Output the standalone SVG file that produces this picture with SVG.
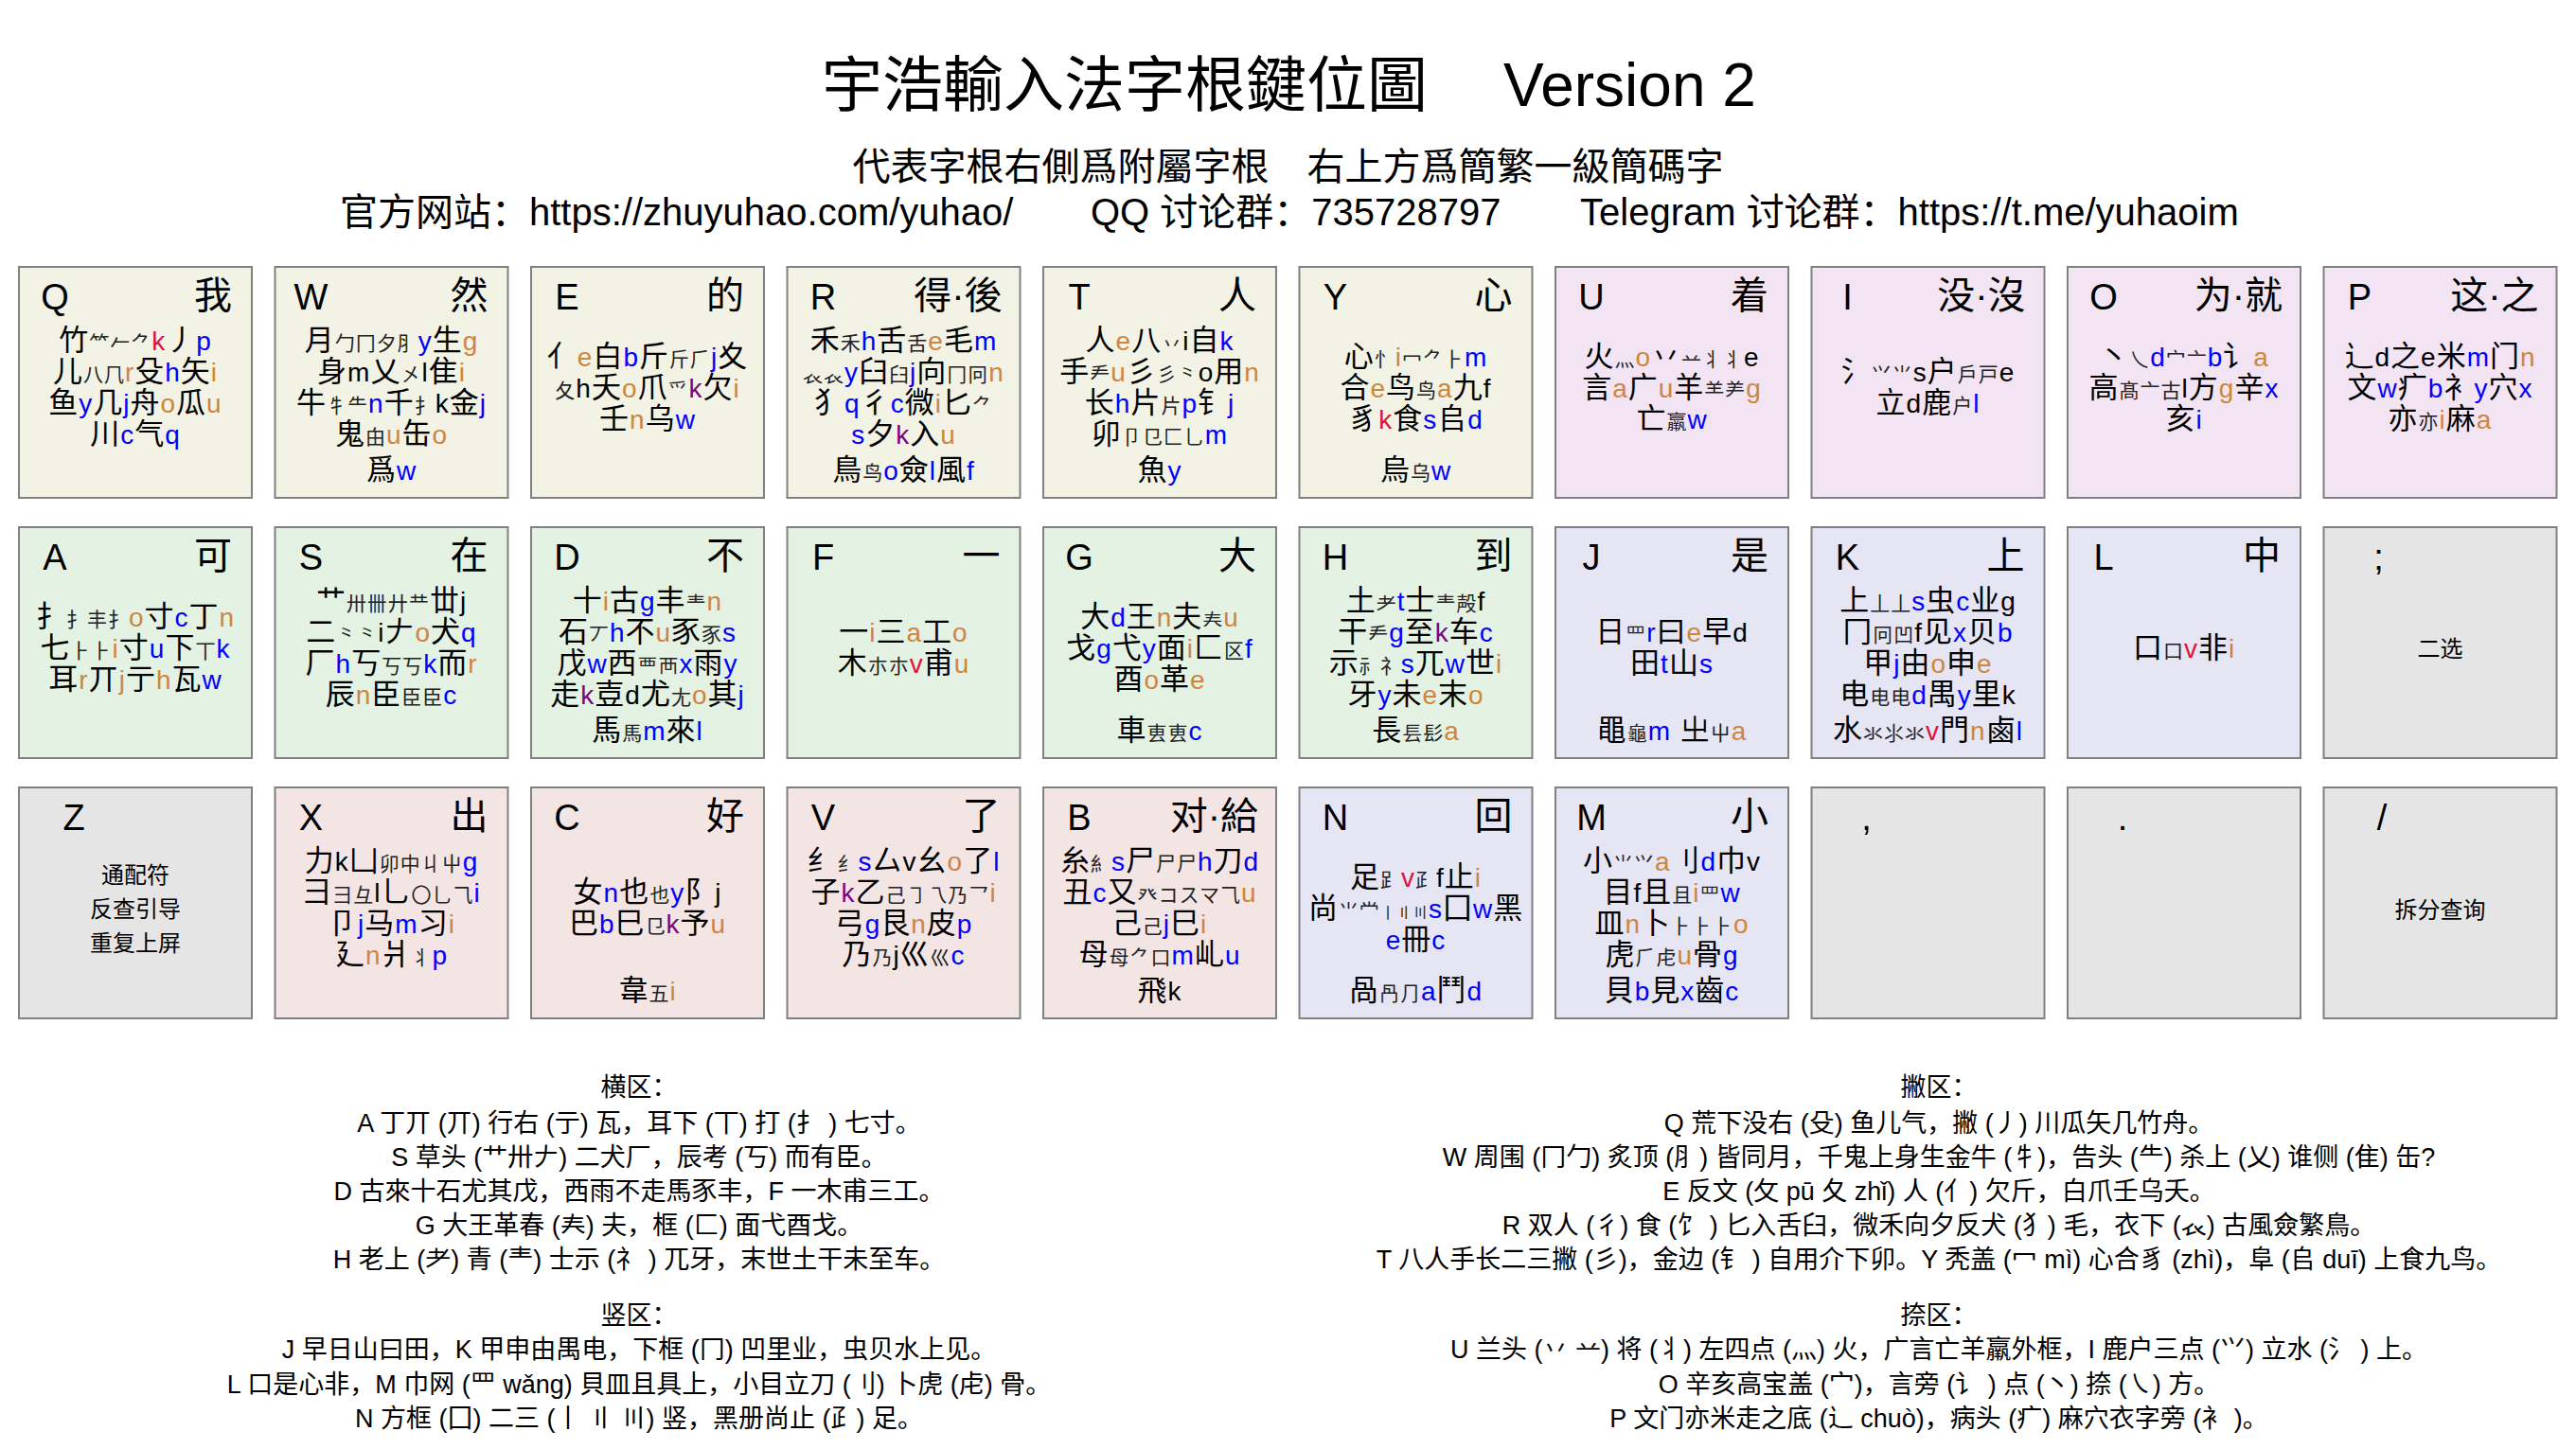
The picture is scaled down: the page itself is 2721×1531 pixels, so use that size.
<svg xmlns="http://www.w3.org/2000/svg" width="2721" height="1531" viewBox="0 0 2721 1531">
<style>
text{font-family:"Liberation Sans","Noto Sans CJK SC",sans-serif;fill:#000}
.key rect{stroke:#808080;stroke-width:2}
.c1{fill:#F2F2E5}.c2{fill:#F3E4F3}.c3{fill:#E4F2E4}.c4{fill:#E5E5F4}.c5{fill:#E5E5E5}.c6{fill:#F4E5E5}
.kl{font-size:38px;text-anchor:middle}
.kc{font-size:40px;text-anchor:end}
.ln{font-size:31px;text-anchor:middle;letter-spacing:1px}
.S{font-size:21px;fill:#222}
.T{font-size:16px;fill:#222}
.B{font-size:28px;fill:#0000FF}
.N{font-size:28px;fill:#CD853F}
.R{font-size:28px;fill:#DC143C}
.P{font-size:28px;fill:#800080}
.K{font-size:28px;fill:#000}
.sm{font-size:24px;text-anchor:middle}
.bt{font-size:27px;text-anchor:middle}
.h1{font-size:64px}
.h2{font-size:40px}
</style>
<rect width="2721" height="1531" fill="#FFFFFF"/>
<g id="header">
<text class="h1" x="868" y="112">宇浩輸入法字根鍵位圖</text>
<text class="h1" x="1588" y="112">Version 2</text>
<text class="h2" x="1360.5" y="190" text-anchor="middle">代表字根右側爲附屬字根　右上方爲簡繁一級簡碼字</text>
<text class="h2" x="359" y="238">官方网站：https://zhuyuhao.com/yuhao/</text>
<text class="h2" x="1152" y="238">QQ 讨论群：735728797</text>
<text class="h2" x="1669" y="238">Telegram 讨论群：https://t.me/yuhaoim</text>
</g>

<!-- Row 1 -->
<g id="key-Q" class="key"><rect class="c1" x="20" y="282" width="246" height="244"/>
<text class="kl" x="58" y="327">Q</text><text class="kc" x="245" y="326">我</text>
<text class="ln" x="143" y="370">竹<tspan class="S">⺮𠂉⺈</tspan><tspan class="R">k</tspan>丿<tspan class="B">p</tspan></text>
<text class="ln" x="143" y="403">儿<tspan class="S">八⺇</tspan><tspan class="N">r</tspan>殳<tspan class="B">h</tspan>矢<tspan class="N">i</tspan></text>
<text class="ln" x="143" y="436">鱼<tspan class="B">y</tspan>几<tspan class="B">j</tspan>舟<tspan class="N">o</tspan>瓜<tspan class="N">u</tspan></text>
<text class="ln" x="143" y="469">川<tspan class="B">c</tspan>气<tspan class="B">q</tspan></text>
</g>
<g id="key-W" class="key"><rect class="c1" x="290.5" y="282" width="246" height="244"/>
<text class="kl" x="328.5" y="327">W</text><text class="kc" x="515.5" y="326">然</text>
<text class="ln" x="413.5" y="370">月<tspan class="S">勹冂夕⺼</tspan><tspan class="B">y</tspan>生<tspan class="N">g</tspan></text>
<text class="ln" x="413.5" y="403">身<tspan class="K">m</tspan>乂<tspan class="S">㐅</tspan><tspan class="K">l</tspan>隹<tspan class="N">i</tspan></text>
<text class="ln" x="413.5" y="436">牛<tspan class="S">牜⺧</tspan><tspan class="B">n</tspan>千<tspan class="S">扌</tspan><tspan class="K">k</tspan>金<tspan class="B">j</tspan></text>
<text class="ln" x="413.5" y="469">鬼<tspan class="S">甶</tspan><tspan class="N">u</tspan>缶<tspan class="N">o</tspan></text>
<text class="ln" x="413.5" y="507">爲<tspan class="B">w</tspan></text>
</g>
<g id="key-E" class="key"><rect class="c1" x="561" y="282" width="246" height="244"/>
<text class="kl" x="599" y="327">E</text><text class="kc" x="786" y="326">的</text>
<text class="ln" x="684" y="387">亻<tspan class="N">e</tspan>白<tspan class="B">b</tspan>斤<tspan class="S">斤⺁</tspan><tspan class="B">j</tspan>夊</text>
<text class="ln" x="684" y="420"><tspan class="S">夂</tspan><tspan class="K">h</tspan>夭<tspan class="N">o</tspan>爪<tspan class="S">⺤</tspan><tspan class="P">k</tspan>欠<tspan class="N">i</tspan></text>
<text class="ln" x="684" y="453">壬<tspan class="N">n</tspan>乌<tspan class="B">w</tspan></text>
</g>
<g id="key-R" class="key"><rect class="c1" x="831.5" y="282" width="246" height="244"/>
<text class="kl" x="869.5" y="327">R</text><text class="kc" x="1058.5" y="326">得·後</text>
<text class="ln" x="954.5" y="370">禾<tspan class="S">禾</tspan><tspan class="B">h</tspan>舌<tspan class="S">舌</tspan><tspan class="N">e</tspan>毛<tspan class="B">m</tspan></text>
<text class="ln" x="954.5" y="403"><tspan class="S">𧘇𧘇</tspan><tspan class="B">y</tspan>臼<tspan class="S">臼</tspan><tspan class="B">j</tspan>向<tspan class="S">冂冋</tspan><tspan class="N">n</tspan></text>
<text class="ln" x="954.5" y="436">犭<tspan class="B">q</tspan>彳<tspan class="B">c</tspan>微<tspan class="N">i</tspan>匕<tspan class="S">⺈</tspan></text>
<text class="ln" x="954.5" y="469"><tspan class="B">s</tspan>夕<tspan class="P">k</tspan>入<tspan class="N">u</tspan></text>
<text class="ln" x="954.5" y="507">鳥<tspan class="S">鸟</tspan><tspan class="B">o</tspan>僉<tspan class="B">l</tspan>風<tspan class="B">f</tspan></text>
</g>
<g id="key-T" class="key"><rect class="c1" x="1102" y="282" width="246" height="244"/>
<text class="kl" x="1140" y="327">T</text><text class="kc" x="1327" y="326">人</text>
<text class="ln" x="1225" y="370">人<tspan class="N">e</tspan>八<tspan class="S">丷</tspan><tspan class="K">i</tspan>自<tspan class="B">k</tspan></text>
<text class="ln" x="1225" y="403">手<tspan class="S">龵</tspan><tspan class="N">u</tspan>彡<tspan class="S">彡⺀</tspan><tspan class="K">o</tspan>用<tspan class="N">n</tspan></text>
<text class="ln" x="1225" y="436">长<tspan class="B">h</tspan>片<tspan class="S">片</tspan><tspan class="B">p</tspan>钅<tspan class="B">j</tspan></text>
<text class="ln" x="1225" y="469">卯<tspan class="S">卩⺋匚⺃</tspan><tspan class="B">m</tspan></text>
<text class="ln" x="1225" y="507">魚<tspan class="B">y</tspan></text>
</g>
<g id="key-Y" class="key"><rect class="c1" x="1372.5" y="282" width="246" height="244"/>
<text class="kl" x="1410.5" y="327">Y</text><text class="kc" x="1597.5" y="326">心</text>
<text class="ln" x="1495.5" y="387">心<tspan class="S">忄</tspan><tspan class="N">i</tspan><tspan class="S">冖⺈⺊</tspan><tspan class="B">m</tspan></text>
<text class="ln" x="1495.5" y="420">合<tspan class="N">e</tspan>鸟<tspan class="S">鸟</tspan><tspan class="N">a</tspan>九<tspan class="K">f</tspan></text>
<text class="ln" x="1495.5" y="453">豸<tspan class="R">k</tspan>食<tspan class="B">s</tspan>𠂤<tspan class="B">d</tspan></text>
<text class="ln" x="1495.5" y="507">烏<tspan class="S">乌</tspan><tspan class="B">w</tspan></text>
</g>
<g id="key-U" class="key"><rect class="c2" x="1643" y="282" width="246" height="244"/>
<text class="kl" x="1681" y="327">U</text><text class="kc" x="1868" y="326">着</text>
<text class="ln" x="1766" y="387">火<tspan class="S">灬</tspan><tspan class="N">o</tspan>丷<tspan class="S">䒑丬⺦</tspan><tspan class="K">e</tspan></text>
<text class="ln" x="1766" y="420">言<tspan class="N">a</tspan>广<tspan class="N">u</tspan>羊<tspan class="S">⺷⺶</tspan><tspan class="N">g</tspan></text>
<text class="ln" x="1766" y="453">亡<tspan class="S">羸</tspan><tspan class="B">w</tspan></text>
</g>
<g id="key-I" class="key"><rect class="c2" x="1913.5" y="282" width="246" height="244"/>
<text class="kl" x="1951.5" y="327">I</text><text class="kc" x="2139.5" y="326">没·沒</text>
<text class="ln" x="2036.5" y="403">氵<tspan class="S">⺍⺌</tspan><tspan class="K">s</tspan>户<tspan class="S">戶戸</tspan><tspan class="K">e</tspan></text>
<text class="ln" x="2036.5" y="436">立<tspan class="K">d</tspan>鹿<tspan class="S">户</tspan><tspan class="B">l</tspan></text>
</g>
<g id="key-O" class="key"><rect class="c2" x="2184" y="282" width="246" height="244"/>
<text class="kl" x="2222" y="327">O</text><text class="kc" x="2411" y="326">为·就</text>
<text class="ln" x="2307" y="387">丶<tspan class="S">乀</tspan><tspan class="B">d</tspan><tspan class="S">宀亠</tspan><tspan class="B">b</tspan>讠<tspan class="N">a</tspan></text>
<text class="ln" x="2307" y="420">高<tspan class="S">髙亠古</tspan><tspan class="K">l</tspan>方<tspan class="N">g</tspan>辛<tspan class="B">x</tspan></text>
<text class="ln" x="2307" y="453">亥<tspan class="B">i</tspan></text>
</g>
<g id="key-P" class="key"><rect class="c2" x="2454.5" y="282" width="246" height="244"/>
<text class="kl" x="2492.5" y="327">P</text><text class="kc" x="2681.5" y="326">这·之</text>
<text class="ln" x="2577.5" y="387">辶<tspan class="K">d</tspan>之<tspan class="K">e</tspan>米<tspan class="B">m</tspan>门<tspan class="N">n</tspan></text>
<text class="ln" x="2577.5" y="420">文<tspan class="B">w</tspan>疒<tspan class="B">b</tspan>衤<tspan class="B">y</tspan>穴<tspan class="B">x</tspan></text>
<text class="ln" x="2577.5" y="453">亦<tspan class="S">亦</tspan><tspan class="N">i</tspan>麻<tspan class="N">a</tspan></text>
</g>

<!-- Row 2 -->
<g id="key-A" class="key"><rect class="c3" x="20" y="557" width="246" height="244"/>
<text class="kl" x="58" y="602">A</text><text class="kc" x="245" y="601">可</text>
<text class="ln" x="143" y="662">扌<tspan class="S">扌丰扌</tspan><tspan class="N">o</tspan>寸<tspan class="B">c</tspan>丁<tspan class="N">n</tspan></text>
<text class="ln" x="143" y="695">七<tspan class="S">⺊⺊</tspan><tspan class="N">i</tspan>寸<tspan class="B">u</tspan>下<tspan class="S">丅</tspan><tspan class="B">k</tspan></text>
<text class="ln" x="143" y="728">耳<tspan class="N">r</tspan>丌<tspan class="N">j</tspan>亍<tspan class="N">h</tspan>瓦<tspan class="B">w</tspan></text>
</g>
<g id="key-S" class="key"><rect class="c3" x="290.5" y="557" width="246" height="244"/>
<text class="kl" x="328.5" y="602">S</text><text class="kc" x="515.5" y="601">在</text>
<text class="ln" x="413.5" y="645">艹<tspan class="S">卅卌廾龷</tspan>丗<tspan class="K">j</tspan></text>
<text class="ln" x="413.5" y="678">二<tspan class="S">⺀⺀</tspan><tspan class="K">i</tspan>𠂇<tspan class="N">o</tspan>犬<tspan class="B">q</tspan></text>
<text class="ln" x="413.5" y="711">厂<tspan class="B">h</tspan>丂<tspan class="S">丂丂</tspan><tspan class="B">k</tspan>而<tspan class="N">r</tspan></text>
<text class="ln" x="413.5" y="744">辰<tspan class="N">n</tspan>臣<tspan class="S">臣臣</tspan><tspan class="B">c</tspan></text>
</g>
<g id="key-D" class="key"><rect class="c3" x="561" y="557" width="246" height="244"/>
<text class="kl" x="599" y="602">D</text><text class="kc" x="786" y="601">不</text>
<text class="ln" x="684" y="645">十<tspan class="N">i</tspan>古<tspan class="B">g</tspan>丰<tspan class="S">龶</tspan><tspan class="N">n</tspan></text>
<text class="ln" x="684" y="678">石<tspan class="S">丆</tspan><tspan class="B">h</tspan>不<tspan class="N">u</tspan>豕<tspan class="S">豕</tspan><tspan class="B">s</tspan></text>
<text class="ln" x="684" y="711">戊<tspan class="B">w</tspan>西<tspan class="S">覀襾</tspan><tspan class="B">x</tspan>雨<tspan class="B">y</tspan></text>
<text class="ln" x="684" y="744">走<tspan class="P">k</tspan>壴<tspan class="K">d</tspan>尤<tspan class="S">尢</tspan><tspan class="N">o</tspan>其<tspan class="B">j</tspan></text>
<text class="ln" x="684" y="782">馬<tspan class="S">馬</tspan><tspan class="B">m</tspan>來<tspan class="B">l</tspan></text>
</g>
<g id="key-F" class="key"><rect class="c3" x="831.5" y="557" width="246" height="244"/>
<text class="kl" x="869.5" y="602">F</text><text class="kc" x="1056.5" y="601">一</text>
<text class="ln" x="954.5" y="678">一<tspan class="N">i</tspan>三<tspan class="N">a</tspan>工<tspan class="N">o</tspan></text>
<text class="ln" x="954.5" y="711">木<tspan class="S">朩朩</tspan><tspan class="R">v</tspan>甫<tspan class="N">u</tspan></text>
</g>
<g id="key-G" class="key"><rect class="c3" x="1102" y="557" width="246" height="244"/>
<text class="kl" x="1140" y="602">G</text><text class="kc" x="1327" y="601">大</text>
<text class="ln" x="1225" y="662">大<tspan class="B">d</tspan>王<tspan class="N">n</tspan>夫<tspan class="S">𡗗</tspan><tspan class="N">u</tspan></text>
<text class="ln" x="1225" y="695">戈<tspan class="B">g</tspan>弋<tspan class="B">y</tspan>面<tspan class="N">i</tspan>匚<tspan class="S">区</tspan><tspan class="B">f</tspan></text>
<text class="ln" x="1225" y="728">酉<tspan class="N">o</tspan>革<tspan class="N">e</tspan></text>
<text class="ln" x="1225" y="782">車<tspan class="S">叀叀</tspan><tspan class="B">c</tspan></text>
</g>
<g id="key-H" class="key"><rect class="c3" x="1372.5" y="557" width="246" height="244"/>
<text class="kl" x="1410.5" y="602">H</text><text class="kc" x="1597.5" y="601">到</text>
<text class="ln" x="1495.5" y="645">土<tspan class="S">耂</tspan><tspan class="B">t</tspan>士<tspan class="S">龶殸</tspan><tspan class="K">f</tspan></text>
<text class="ln" x="1495.5" y="678">干<tspan class="S">龵</tspan><tspan class="B">g</tspan>至<tspan class="P">k</tspan>车<tspan class="B">c</tspan></text>
<text class="ln" x="1495.5" y="711">示<tspan class="S">⺬礻</tspan><tspan class="B">s</tspan>兀<tspan class="B">w</tspan>世<tspan class="N">i</tspan></text>
<text class="ln" x="1495.5" y="744">牙<tspan class="B">y</tspan>未<tspan class="N">e</tspan>末<tspan class="N">o</tspan></text>
<text class="ln" x="1495.5" y="782">長<tspan class="S">镸髟</tspan><tspan class="N">a</tspan></text>
</g>
<g id="key-J" class="key"><rect class="c4" x="1643" y="557" width="246" height="244"/>
<text class="kl" x="1681" y="602">J</text><text class="kc" x="1868" y="601">是</text>
<text class="ln" x="1766" y="678">日<tspan class="S">罒</tspan><tspan class="B">r</tspan>曰<tspan class="N">e</tspan>早<tspan class="K">d</tspan></text>
<text class="ln" x="1766" y="711">田<tspan class="B">t</tspan>山<tspan class="B">s</tspan></text>
<text class="ln" x="1766" y="782">黽<tspan class="S">龜</tspan><tspan class="B">m</tspan> 㞢<tspan class="S">屮</tspan><tspan class="N">a</tspan></text>
</g>
<g id="key-K" class="key"><rect class="c4" x="1913.5" y="557" width="246" height="244"/>
<text class="kl" x="1951.5" y="602">K</text><text class="kc" x="2138.5" y="601">上</text>
<text class="ln" x="2036.5" y="645">上<tspan class="S">丄丄</tspan><tspan class="B">s</tspan>虫<tspan class="B">c</tspan>业<tspan class="K">g</tspan></text>
<text class="ln" x="2036.5" y="678">冂<tspan class="S">冋凹</tspan><tspan class="K">f</tspan>见<tspan class="B">x</tspan>贝<tspan class="B">b</tspan></text>
<text class="ln" x="2036.5" y="711">甲<tspan class="B">j</tspan>由<tspan class="N">o</tspan>申<tspan class="N">e</tspan></text>
<text class="ln" x="2036.5" y="744">电<tspan class="S">电电</tspan><tspan class="B">d</tspan>禺<tspan class="B">y</tspan>里<tspan class="K">k</tspan></text>
<text class="ln" x="2036.5" y="782">水<tspan class="S">氺⺢氺</tspan><tspan class="R">v</tspan>門<tspan class="N">n</tspan>鹵<tspan class="B">l</tspan></text>
</g>
<g id="key-L" class="key"><rect class="c4" x="2184" y="557" width="246" height="244"/>
<text class="kl" x="2222" y="602">L</text><text class="kc" x="2409" y="601">中</text>
<text class="ln" x="2307" y="695">口<tspan class="S">口</tspan><tspan class="R">v</tspan>非<tspan class="N">i</tspan></text>
</g>
<g id="key-semicolon" class="key"><rect class="c5" x="2454.5" y="557" width="246" height="244"/>
<text class="kl" x="2512.5" y="602">;</text>
<text class="sm" x="2577.5" y="694">二选</text>
</g>

<!-- Row 3 -->
<g id="key-Z" class="key"><rect class="c5" x="20" y="832" width="246" height="244"/>
<text class="kl" x="78" y="877">Z</text>
<text class="sm" x="143" y="933">通配符</text>
<text class="sm" x="143" y="969">反查引导</text>
<text class="sm" x="143" y="1005">重复上屏</text>
</g>
<g id="key-X" class="key"><rect class="c6" x="290.5" y="832" width="246" height="244"/>
<text class="kl" x="328.5" y="877">X</text><text class="kc" x="515.5" y="876">出</text>
<text class="ln" x="413.5" y="920">力<tspan class="K">k</tspan>凵<tspan class="S">卯中丩屮</tspan><tspan class="B">g</tspan></text>
<text class="ln" x="413.5" y="953">彐<tspan class="S">⺕彑</tspan><tspan class="K">l</tspan>乚<tspan class="S">〇乚⺄</tspan><tspan class="B">i</tspan></text>
<text class="ln" x="413.5" y="986">卩<tspan class="B">j</tspan>马<tspan class="B">m</tspan>习<tspan class="N">i</tspan></text>
<text class="ln" x="413.5" y="1019">廴<tspan class="N">n</tspan>爿<tspan class="S">丬</tspan><tspan class="B">p</tspan></text>
</g>
<g id="key-C" class="key"><rect class="c6" x="561" y="832" width="246" height="244"/>
<text class="kl" x="599" y="877">C</text><text class="kc" x="786" y="876">好</text>
<text class="ln" x="684" y="953">女<tspan class="B">n</tspan>也<tspan class="S">也</tspan><tspan class="B">y</tspan>阝<tspan class="K">j</tspan></text>
<text class="ln" x="684" y="986">巴<tspan class="B">b</tspan>巳<tspan class="S">㔾</tspan><tspan class="P">k</tspan>予<tspan class="N">u</tspan></text>
<text class="ln" x="684" y="1057">韋<tspan class="S">五</tspan><tspan class="N">i</tspan></text>
</g>
<g id="key-V" class="key"><rect class="c6" x="831.5" y="832" width="246" height="244"/>
<text class="kl" x="869.5" y="877">V</text><text class="kc" x="1056.5" y="876">了</text>
<text class="ln" x="954.5" y="920">纟<tspan class="S">纟</tspan><tspan class="B">s</tspan>厶<tspan class="K">v</tspan>幺<tspan class="N">o</tspan>了<tspan class="B">l</tspan></text>
<text class="ln" x="954.5" y="953">子<tspan class="P">k</tspan>乙<tspan class="S">己㇆乁乃乛</tspan><tspan class="N">i</tspan></text>
<text class="ln" x="954.5" y="986">弓<tspan class="B">g</tspan>艮<tspan class="N">n</tspan>皮<tspan class="B">p</tspan></text>
<text class="ln" x="954.5" y="1019">乃<tspan class="S">乃</tspan><tspan class="K">j</tspan>巛<tspan class="S">巛</tspan><tspan class="B">c</tspan></text>
</g>
<g id="key-B" class="key"><rect class="c6" x="1102" y="832" width="246" height="244"/>
<text class="kl" x="1140" y="877">B</text><text class="kc" x="1329" y="876">对·給</text>
<text class="ln" x="1225" y="920">糸<tspan class="S">糹</tspan><tspan class="B">s</tspan>尸<tspan class="S">尸尸</tspan><tspan class="B">h</tspan>刀<tspan class="B">d</tspan></text>
<text class="ln" x="1225" y="953">丑<tspan class="B">c</tspan>又<tspan class="S">癶コスマ⺄</tspan><tspan class="N">u</tspan></text>
<text class="ln" x="1225" y="986">己<tspan class="S">己</tspan><tspan class="B">j</tspan>巳<tspan class="N">i</tspan></text>
<text class="ln" x="1225" y="1019">母<tspan class="S">⺟⺈口</tspan><tspan class="B">m</tspan>乢<tspan class="B">u</tspan></text>
<text class="ln" x="1225" y="1057">飛<tspan class="K">k</tspan></text>
</g>
<g id="key-N" class="key"><rect class="c4" x="1372.5" y="832" width="246" height="244"/>
<text class="kl" x="1410.5" y="877">N</text><text class="kc" x="1597.5" y="876">回</text>
<text class="ln" x="1495.5" y="937">足<tspan class="S">⻊</tspan><tspan class="R">v</tspan><tspan class="S">⺪</tspan><tspan class="K">f</tspan>止<tspan class="N">i</tspan></text>
<text class="ln" x="1495.5" y="970">尚<tspan class="S">⺌龸</tspan><tspan class="T">丨〢〣</tspan><tspan class="B">s</tspan>囗<tspan class="B">w</tspan>黑</text>
<text class="ln" x="1495.5" y="1003"><tspan class="B">e</tspan>冊<tspan class="B">c</tspan></text>
<text class="ln" x="1495.5" y="1057">咼<tspan class="S">冎⺆</tspan><tspan class="B">a</tspan>鬥<tspan class="B">d</tspan></text>
</g>
<g id="key-M" class="key"><rect class="c4" x="1643" y="832" width="246" height="244"/>
<text class="kl" x="1681" y="877">M</text><text class="kc" x="1868" y="876">小</text>
<text class="ln" x="1766" y="920">小<tspan class="S">⺌⺍</tspan><tspan class="N">a</tspan>刂<tspan class="B">d</tspan>巾<tspan class="K">v</tspan></text>
<text class="ln" x="1766" y="953">目<tspan class="K">f</tspan>且<tspan class="S">且</tspan><tspan class="N">i</tspan><tspan class="S">罒</tspan><tspan class="B">w</tspan></text>
<text class="ln" x="1766" y="986">皿<tspan class="N">n</tspan>卜<tspan class="S">⺊⺊⺊</tspan><tspan class="N">o</tspan></text>
<text class="ln" x="1766" y="1019">虎<tspan class="S">⺁虍</tspan><tspan class="N">u</tspan>骨<tspan class="B">g</tspan></text>
<text class="ln" x="1766" y="1057">貝<tspan class="B">b</tspan>見<tspan class="B">x</tspan>齒<tspan class="B">c</tspan></text>
</g>
<g id="key-comma" class="key"><rect class="c5" x="1913.5" y="832" width="246" height="244"/>
<text class="kl" x="1971.5" y="877">,</text>
</g>
<g id="key-period" class="key"><rect class="c5" x="2184" y="832" width="246" height="244"/>
<text class="kl" x="2242" y="877">.</text>
</g>
<g id="key-slash" class="key"><rect class="c5" x="2454.5" y="832" width="246" height="244"/>
<text class="kl" x="2516" y="877">/</text>
<text class="sm" x="2577.5" y="970">拆分查询</text>
</g>

<g id="notes-left">
<text class="bt" x="675" y="1158">横区：</text>
<text class="bt" x="675" y="1196">A 丁丌 (丌) 行右 (亍) 瓦，耳下 (丅) 打 (扌 ) 七寸。</text>
<text class="bt" x="675" y="1232">S 草头 (艹卅𠂇) 二犬厂，辰考 (丂) 而有臣。</text>
<text class="bt" x="675" y="1268">D 古來十石尤其戊，西雨不走馬豕丰，F 一木甫三工。</text>
<text class="bt" x="675" y="1304">G 大王革春 (𡗗) 夫，框 (匚) 面弋酉戈。</text>
<text class="bt" x="675" y="1340">H 老上 (耂) 青 (龶) 士示 (礻 ) 兀牙，末世土干未至车。</text>
<text class="bt" x="675" y="1399">竖区：</text>
<text class="bt" x="675" y="1435">J 早日山曰田，K 甲申由禺电，下框 (冂) 凹里业，虫贝水上见。</text>
<text class="bt" x="675" y="1472">L 口是心非，M 巾网 (罒 wǎng) 貝皿且具上，小目立刀 (刂) 卜虎 (虍) 骨。</text>
<text class="bt" x="675" y="1508">N 方框 (囗) 二三 (丨 〢 〣) 竖，黑册尚止 (⺪) 足。</text>
</g>
<g id="notes-right">
<text class="bt" x="2048" y="1158">撇区：</text>
<text class="bt" x="2048" y="1196">Q 荒下没右 (殳) 鱼儿气，撇 (丿) 川瓜矢几竹舟。</text>
<text class="bt" x="2048" y="1232">W 周围 (冂勹) 炙顶 (⺼) 皆同月，千鬼上身生金牛 (牜)，告头 (⺧) 杀上 (乂) 谁侧 (隹) 缶?</text>
<text class="bt" x="2048" y="1268">E 反文 (攵 pū 夂 zhǐ) 人 (亻) 欠斤，白爪壬乌夭。</text>
<text class="bt" x="2048" y="1304">R 双人 (彳) 食 (饣 ) 匕入舌臼，微禾向夕反犬 (犭) 毛，衣下 (𧘇) 古風僉繁鳥。</text>
<text class="bt" x="2048" y="1340">T 八人手长二三撇 (彡)，金边 (钅 ) 自用介下卯。Y 秃盖 (冖 mì) 心合豸 (zhì)，阜 (𠂤 duī) 上食九鸟。</text>
<text class="bt" x="2048" y="1399">捺区：</text>
<text class="bt" x="2048" y="1435">U 兰头 (丷 䒑) 将 (丬) 左四点 (灬) 火，广言亡羊羸外框，I 鹿户三点 (⺍) 立水 (氵 ) 上。</text>
<text class="bt" x="2048" y="1472">O 辛亥高宝盖 (宀)，言旁 (讠 ) 点 (丶) 捺 (㇏) 方。</text>
<text class="bt" x="2048" y="1508">P 文门亦米走之底 (辶 chuò)，病头 (疒) 麻穴衣字旁 (衤 )。</text>
</g>
</svg>
